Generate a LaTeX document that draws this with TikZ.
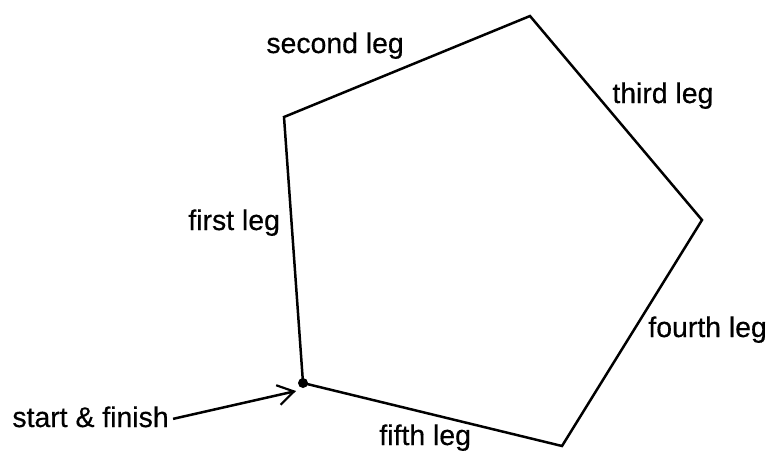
\documentclass[tikz,border=0pt]{standalone}
\usepackage{fontspec}
\setmainfont{Liberation Sans}
\newfontfamily\lblfont[FakeBold=0.5]{Liberation Sans}
\usetikzlibrary{arrows.meta}
\begin{document}
\begin{tikzpicture}[x=0.5pt,y=-0.5pt,
  leg/.style={line width=1.25pt,line join=miter},
  lbl/.style={inner sep=0pt,anchor=base west,font=\lblfont\fontsize{14.2pt}{16pt}\selectfont},
  pointer/.style={line width=1.25pt,-{Straight Barb[length=8pt,width=10pt,line width=1.1pt]}}]
\useasboundingbox (0,0) rectangle (775,456);
\coordinate (v1) at (303,383);
\coordinate (v2) at (284,117);
\coordinate (v3) at (530,16);
\coordinate (v4) at (702,220);
\coordinate (v5) at (562,446);
\draw[leg] (v1) -- (v2) -- (v3) -- (v4) -- (v5) -- cycle;
\fill (v1) circle (2.5pt);
\node[lbl] (second) at (266,53) {second leg};
\node[lbl] (third) at (612,103) {third leg};
\node[lbl] (first) at (188,230) {first leg};
\node[lbl] (fourth) at (648,337) {fourth leg};
\node[lbl] (fifth) at (379,445) {fifth leg};
\node[lbl] (start) at (12,427) {start \& finish};
\coordinate (tip) at (296,391);
\draw[pointer] ([xshift=2pt,yshift=-1pt]start.east) -- (tip);
\end{tikzpicture}
\end{document}
